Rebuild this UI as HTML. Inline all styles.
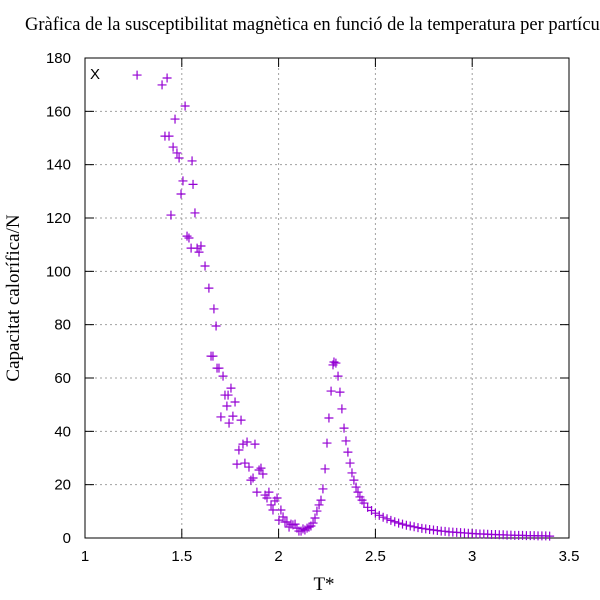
<!DOCTYPE html>
<html><head><meta charset="utf-8"><style>
html,body{margin:0;padding:0;background:#fff;overflow:hidden}
svg{display:block}
</style></head><body>
<svg id="chart" width="600" height="600" viewBox="0 0 600 600" xmlns="http://www.w3.org/2000/svg">
<text x="25" y="30" font-family="Liberation Serif, serif" font-size="18.5" fill="#000">Gràfica de la susceptibilitat magnètica en funció de la temperatura per partícula</text>
<g id="grid"></g>
<g id="axes"></g>
<g id="points"></g>
<text x="90" y="79" font-family="Liberation Sans, sans-serif" font-size="15" fill="#000">X</text>
<text x="324" y="590" text-anchor="middle" font-family="Liberation Serif, serif" font-size="19">T*</text>
<text transform="translate(19,298) rotate(-90)" text-anchor="middle" font-family="Liberation Serif, serif" font-size="19">Capacitat calorífica/N</text>
</svg>
<script>
const xTicks=[1,1.5,2,2.5,3,3.5];
const xTickLabels=["1","1.5","2","2.5","3","3.5"];
const yTicks=[0,20,40,60,80,100,120,140,160,180];
const yTickLabels=["0","20","40","60","80","100","120","140","160","180"];
const tValues=[1.269,1.398,1.424,1.413,1.434,1.455,1.475,1.486,1.465,1.444,1.517,1.496,1.506,1.527,1.537,1.548,1.558,1.553,1.568,1.579,1.589,1.599,1.620,1.640,1.651,1.661,1.666,1.677,1.682,1.692,1.702,1.713,1.723,1.733,1.739,1.744,1.754,1.764,1.775,1.785,1.795,1.806,1.816,1.826,1.837,1.847,1.857,1.868,1.878,1.888,1.899,1.909,1.919,1.930,1.940,1.950,1.961,1.971,1.981,1.992,2.002,2.012,2.023,2.033,2.043,2.054,2.064,2.074,2.085,2.095,2.105,2.116,2.126,2.136,2.147,2.157,2.167,2.178,2.188,2.198,2.209,2.219,2.229,2.240,2.250,2.260,2.271,2.281,2.286,2.296,2.307,2.317,2.327,2.338,2.348,2.358,2.369,2.379,2.389,2.400,2.410,2.420,2.431,2.441,2.46,2.48,2.50,2.52,2.54,2.56,2.58,2.60,2.62,2.64,2.66,2.68,2.70,2.72,2.74,2.76,2.78,2.80,2.82,2.84,2.86,2.88,2.90,2.92,2.94,2.96,2.98,3.00,3.02,3.04,3.06,3.08,3.10,3.12,3.14,3.16,3.18,3.20,3.22,3.24,3.26,3.28,3.30,3.32,3.34,3.36,3.38,3.40];
const cValues=[173.6,169.9,172.5,150.7,150.7,146.6,144.4,142.5,157.1,121.1,162.0,129.0,133.9,113.2,112.5,108.7,132.6,141.4,121.9,108.7,107.2,109.5,102.0,93.7,68.2,68.2,85.9,79.5,63.7,63.7,45.4,60.7,53.6,49.5,53.6,43.1,56.2,45.7,51.0,27.7,33.0,44.2,35.2,28.1,36.0,26.6,21.7,22.5,35.2,17.2,25.5,26.2,24.0,16.1,15.0,17.2,12.4,10.5,13.9,15.0,6.7,10.5,7.9,6.0,6.0,4.1,5.2,4.9,5.2,3.7,2.6,2.6,3.4,3.0,3.7,4.1,4.5,5.6,7.5,10.1,12.4,14.2,18.4,25.9,35.6,45.0,55.1,64.9,66.0,65.6,60.7,54.7,48.4,41.2,36.4,32.2,28.1,24.4,21.7,19.1,17.2,15.4,14.2,13.1,11.5,10.3,9.3,8.5,7.8,7.2,6.6,6.1,5.6,5.2,4.8,4.5,4.2,3.9,3.6,3.4,3.2,3.0,2.8,2.6,2.5,2.3,2.2,2.1,2.0,1.9,1.8,1.7,1.6,1.5,1.5,1.4,1.3,1.3,1.2,1.2,1.1,1.1,1.0,1.0,1.0,0.9,0.9,0.9,0.8,0.8,0.8,0.7];
const NS="http://www.w3.org/2000/svg";
const L=85,R=569,T=58,B=538;
function xs(v){return L+(v-1)/(3.5-1)*(R-L);}
function ys(v){return B-v/180*(B-T);}
function mk(tag,attrs,parent){const e=document.createElementNS(NS,tag);for(const k in attrs)e.setAttribute(k,attrs[k]);parent.appendChild(e);return e;}
const grid=document.getElementById('grid'),axes=document.getElementById('axes'),pts=document.getElementById('points');
xTicks.forEach((v,i)=>{const x=xs(v);
 if(i>0&&i<xTicks.length-1){const g=mk('line',{x1:x,x2:x,y1:T,y2:B,stroke:'#a0a0a0','stroke-dasharray':'2,3'},grid);
 
 }
 const t1=mk('line',{x1:x,x2:x,y1:B,y2:B-9,stroke:'#000'},axes);
 
 
 const t2=mk('line',{x1:x,x2:x,y1:T,y2:T+9,stroke:'#000'},axes);
 
 
 const tx=mk('text',{x:x,y:561,'text-anchor':'middle','font-family':'Liberation Sans, sans-serif','font-size':'15'},axes);
 tx.textContent=xTickLabels[i];
 
 
});
yTicks.forEach((v,i)=>{const y=ys(v);
 if(i>0&&i<yTicks.length-1){const g=mk('line',{x1:L,x2:R,y1:y,y2:y,stroke:'#a0a0a0','stroke-dasharray':'2,3'},grid);
 
 }
 const t1=mk('line',{x1:L,x2:L+9,y1:y,y2:y,stroke:'#000'},axes);
 
 
 const t2=mk('line',{x1:R,x2:R-9,y1:y,y2:y,stroke:'#000'},axes);
 
 
 const tx=mk('text',{x:71,y:y+5,'text-anchor':'end','font-family':'Liberation Sans, sans-serif','font-size':'15'},axes);
 tx.textContent=yTickLabels[i];
 
 
});
const frame=mk('rect',{x:L,y:T,width:R-L,height:B-T,fill:'none',stroke:'#000','stroke-width':'1'},axes);


tValues.forEach((t,i)=>{const x=xs(t),y=ys(cValues[i]);
 const p=mk('path',{d:`M${x-4.5},${y}H${x+4.5}M${x},${y-4.5}V${y+4.5}`,stroke:'#9400d3','stroke-width':'1.2',fill:'none'},pts);
 
 
});
</script>
</body></html>
